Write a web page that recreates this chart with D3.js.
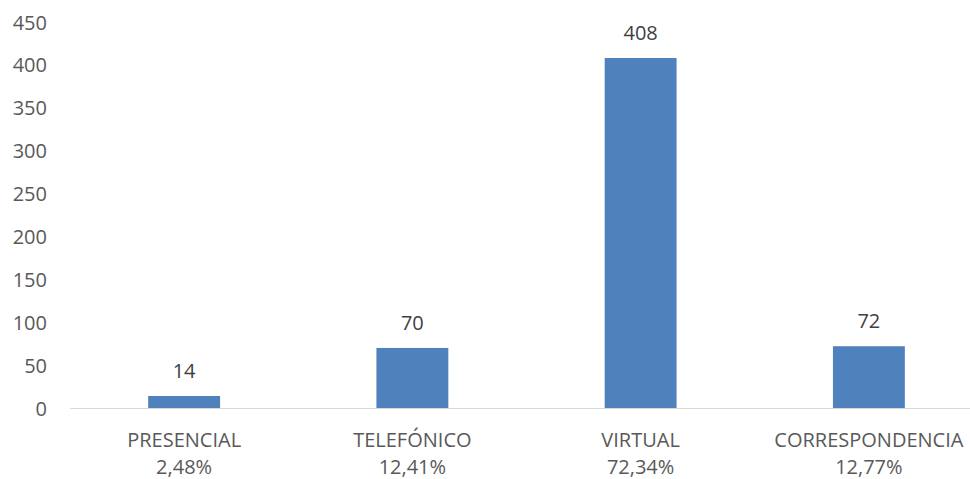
<!DOCTYPE html>
<html>
<head>
<meta charset="utf-8">
<script src="https://cdn.jsdelivr.net/npm/d3@7"></script>
<style>
  html, body { margin: 0; padding: 0; background: #fff; }
  svg { display: block; }
  text { font-family: "Open Sans", "Noto Sans", sans-serif; }
</style>
</head>
<body>
<svg id="chart" width="970" height="479"></svg>
<script>
// Attention channels: counts and share of total
const categories = ["PRESENCIAL", "TELEFÓNICO", "VIRTUAL", "CORRESPONDENCIA"];
const shares = ["2,48%", "12,41%", "72,34%", "12,77%"];
const values = [14, 70, 408, 72];
const yTicks = [0, 50, 100, 150, 200, 250, 300, 350, 400, 450];

const svg = d3.select("#chart");
const margin = { left: 70, top: 22, bottom: 408 };
const plotRight = 983;
const fontSize = 20;

const x = d3.scaleBand()
  .domain(categories)
  .range([margin.left, plotRight])
  .paddingInner(0.685)
  .paddingOuter(0.3425);

const y = d3.scaleLinear()
  .domain([0, 450])
  .range([margin.bottom, margin.top]);

// Y axis labels (no axis line, no ticks)
const yAxis = d3.axisLeft(y).tickValues(yTicks).tickSize(0).tickPadding(0);
const yg = svg.append("g")
  .attr("transform", "translate(47,0)")
  .call(yAxis);
yg.select(".domain").remove();
yg.selectAll("text")
  .attr("fill", "#595959")
  .attr("font-size", fontSize)
  .attr("text-anchor", "end")
  .attr("dy", "0.35em");

// Bars
svg.append("g").selectAll("rect")
  .data(values)
  .join("rect")
  .attr("x", (d, i) => x(categories[i]))
  .attr("width", x.bandwidth())
  .attr("y", d => y(d))
  .attr("height", d => y(0) - y(d))
  .attr("fill", "#4f81bd");

// Baseline
svg.append("line")
  .attr("x1", margin.left).attr("x2", 970)
  .attr("y1", y(0) + 0.5).attr("y2", y(0) + 0.5)
  .attr("stroke", "#d9d9d9").attr("stroke-width", 1);

// Value labels
svg.append("g").selectAll("text")
  .data(values)
  .join("text")
  .attr("x", (d, i) => x(categories[i]) + x.bandwidth() / 2)
  .attr("y", d => y(d) - 18)
  .attr("text-anchor", "middle")
  .attr("fill", "#404040")
  .attr("font-size", fontSize)
  .text(d => d);

// Category labels with percentage on a second line
const cat = svg.append("g").selectAll("text")
  .data(categories)
  .join("text")
  .attr("text-anchor", "middle")
  .attr("fill", "#595959")
  .attr("font-size", fontSize);
cat.append("tspan")
  .attr("x", d => x(d) + x.bandwidth() / 2)
  .attr("y", 447)
  .text(d => d);
cat.append("tspan")
  .attr("x", d => x(d) + x.bandwidth() / 2)
  .attr("y", 474)
  .text((d, i) => shares[i]);
</script>
</body>
</html>
